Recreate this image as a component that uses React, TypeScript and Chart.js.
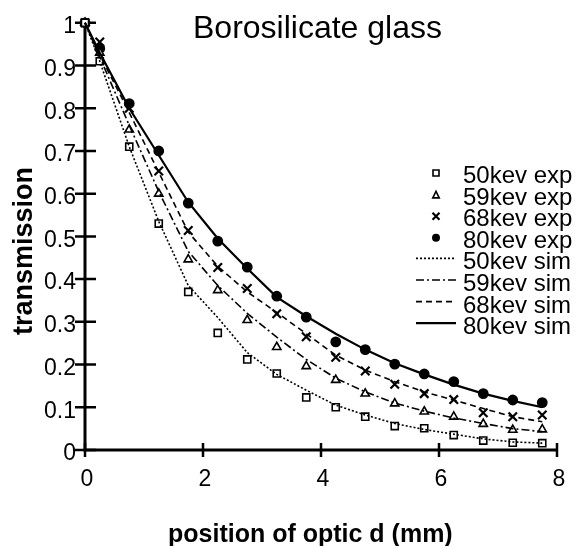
import React, { useEffect, useRef } from 'react';
import { Chart, registerables } from 'chart.js';

Chart.register(...registerables);

// ---------- data ----------
const positions = [0, 0.25, 0.75, 1.25, 1.75, 2.25, 2.75, 3.25, 3.75, 4.25, 4.75, 5.25, 5.75, 6.25, 6.75, 7.25, 7.75];

const exp50 = [1, 0.91, 0.71, 0.53, 0.37, 0.274, 0.212, 0.179, 0.123, 0.1, 0.078, 0.056, 0.051, 0.035, 0.022, 0.017, 0.016];
const exp59 = [1, 0.93, 0.75, 0.6, 0.446, 0.374, 0.304, 0.241, 0.196, 0.164, 0.132, 0.109, 0.09, 0.078, 0.061, 0.047, 0.048];
const exp68 = [1, 0.955, 0.8, 0.653, 0.514, 0.427, 0.378, 0.319, 0.265, 0.217, 0.185, 0.154, 0.132, 0.118, 0.087, 0.078, 0.082];
const exp80 = [1, 0.94, 0.811, 0.7, 0.578, 0.489, 0.428, 0.36, 0.311, 0.253, 0.235, 0.201, 0.178, 0.16, 0.132, 0.117, 0.111];

const sim50 = [1, 0.91, 0.71, 0.535, 0.385, 0.31, 0.228, 0.177, 0.14, 0.105, 0.082, 0.062, 0.048, 0.037, 0.026, 0.019, 0.016];
const sim59 = [1, 0.92, 0.76, 0.605, 0.465, 0.385, 0.32, 0.264, 0.212, 0.168, 0.136, 0.11, 0.091, 0.075, 0.062, 0.05, 0.043];
const sim68 = [1, 0.925, 0.79, 0.65, 0.51, 0.43, 0.37, 0.322, 0.272, 0.222, 0.187, 0.16, 0.136, 0.117, 0.097, 0.078, 0.066];
const sim80 = [1, 0.93, 0.8, 0.69, 0.58, 0.495, 0.425, 0.358, 0.313, 0.272, 0.235, 0.203, 0.177, 0.153, 0.132, 0.115, 0.1];

const xTicks = [0, 2, 4, 6, 8];
const yTicks = [0, 0.1, 0.2, 0.3, 0.4, 0.5, 0.6, 0.7, 0.8, 0.9, 1];

const expLabels = ['50kev exp', '59kev exp', '68kev exp', '80kev exp'];
const simLabels = ['50kev sim', '59kev sim', '68kev sim', '80kev sim'];

const chartTitle = 'Borosilicate glass';
const xTitle = 'position of optic d (mm)';
const yTitle = 'transmission';

const FONT = "'Liberation Sans', Arial, Helvetica, sans-serif";

type Marker = 'square' | 'triangle' | 'cross' | 'dot';
const expMarkers: Marker[] = ['square', 'triangle', 'cross', 'dot'];
const chartStyles: string[] = ['rect', 'triangle', 'crossRot', 'circle'];
const chartRadii = [5, 4.8, 6, 4.6];
const simDashes: number[][] = [[2, 2], [8, 3, 2, 3], [6, 4], []];
const simWidths = [1.6, 1.6, 1.6, 2.2];

function drawMarker(ctx: CanvasRenderingContext2D, m: Marker, x: number, y: number, s: number) {
  ctx.save();
  ctx.strokeStyle = '#000';
  ctx.fillStyle = '#000';
  ctx.lineWidth = 1.6;
  ctx.beginPath();
  if (m === 'square') {
    ctx.rect(x - s / 2, y - s / 2, s, s);
    ctx.stroke();
  } else if (m === 'triangle') {
    ctx.moveTo(x, y - s / 2);
    ctx.lineTo(x + s / 2, y + s / 2);
    ctx.lineTo(x - s / 2, y + s / 2);
    ctx.closePath();
    ctx.stroke();
  } else if (m === 'cross') {
    ctx.lineWidth = 2.2;
    ctx.moveTo(x - s / 2, y - s / 2);
    ctx.lineTo(x + s / 2, y + s / 2);
    ctx.moveTo(x + s / 2, y - s / 2);
    ctx.lineTo(x - s / 2, y + s / 2);
    ctx.stroke();
  } else {
    ctx.arc(x, y, s / 2, 0, Math.PI * 2);
    ctx.fill();
  }
  ctx.restore();
}

const decor = {
  id: 'decor',
  beforeDatasetsDraw(chart: any) {
    const { ctx } = chart;
    const xs = chart.scales.x;
    const ys = chart.scales.y;
    const x0 = xs.getPixelForValue(0);
    const x8 = xs.getPixelForValue(8);
    const y0 = ys.getPixelForValue(0);
    const y1 = ys.getPixelForValue(1);
    ctx.save();
    ctx.strokeStyle = '#000';
    ctx.lineWidth = 3;
    ctx.beginPath();
    ctx.moveTo(x0, y1);
    ctx.lineTo(x0, y0);
    ctx.lineTo(x8, y0);
    ctx.stroke();
    // y tick marks crossing the axis
    ctx.lineWidth = 2.5;
    ctx.beginPath();
    yTicks.forEach((v) => {
      const py = ys.getPixelForValue(v);
      ctx.moveTo(x0 - 10, py);
      ctx.lineTo(x0 + 11, py);
    });
    // x tick marks crossing the axis
    xTicks.forEach((v) => {
      const px = xs.getPixelForValue(v);
      ctx.moveTo(px, y0 - 7);
      ctx.lineTo(px, y0 + 7);
    });
    ctx.stroke();
    ctx.restore();
  },
  afterDraw(chart: any) {
    const { ctx } = chart;
    ctx.save();
    ctx.fillStyle = '#000';
    // title
    ctx.font = `32px ${FONT}`;
    ctx.textAlign = 'left';
    ctx.textBaseline = 'alphabetic';
    ctx.fillText(chartTitle, 193, 38);
    // x title
    ctx.font = `bold 25px ${FONT}`;
    ctx.fillText(xTitle, 168, 542);
    // y title
    ctx.save();
    ctx.translate(32, 251);
    ctx.rotate(-Math.PI / 2);
    ctx.font = `bold 27px ${FONT}`;
    ctx.textAlign = 'center';
    ctx.fillText(yTitle, 0, 0);
    ctx.restore();
    // legend
    const textX = 463;
    const base0 = 183;
    const step = 21.6;
    ctx.font = `24px ${FONT}`;
    ctx.textAlign = 'left';
    expLabels.forEach((lab, i) => {
      const b = base0 + step * i;
      const sizes = [6, 6.5, 7, 8];
      drawMarker(ctx, expMarkers[i], 436, b - 10, sizes[i]);
      ctx.fillText(lab, textX, b);
    });
    simLabels.forEach((lab, i) => {
      const b = base0 + step * (i + 4);
      ctx.save();
      ctx.strokeStyle = '#000';
      ctx.lineWidth = simWidths[i];
      ctx.setLineDash(simDashes[i]);
      ctx.beginPath();
      ctx.moveTo(416, b - 11);
      ctx.lineTo(456, b - 11);
      ctx.stroke();
      ctx.restore();
      ctx.fillText(lab, textX, b);
    });
    ctx.restore();
  },
};

export default function App() {
  const ref = useRef<HTMLCanvasElement>(null);

  useEffect(() => {
    if (!ref.current) return;
    const toPts = (ys: number[]) => positions.map((x, i) => ({ x, y: ys[i] }));
    const expSeries = [exp50, exp59, exp68, exp80];
    const simSeries = [sim50, sim59, sim68, sim80];

    const datasets: any[] = [];
    simSeries.forEach((s, i) => {
      datasets.push({
        label: simLabels[i],
        data: toPts(s),
        showLine: true,
        borderColor: '#000',
        borderWidth: simWidths[i],
        borderDash: simDashes[i],
        pointRadius: 0,
        tension: 0,
        clip: false,
      });
    });
    expSeries.forEach((s, i) => {
      datasets.push({
        label: expLabels[i],
        data: toPts(s),
        showLine: false,
        pointStyle: chartStyles[i],
        pointRadius: chartRadii[i],
        pointBorderWidth: i === 2 ? 2.2 : 1.6,
        pointBorderColor: '#000',
        pointBackgroundColor: i === 3 ? '#000' : '#fff',
        clip: false,
      });
    });

    const chart = new Chart(ref.current, {
      type: 'scatter',
      data: { datasets },
      plugins: [decor],
      options: {
        animation: false,
        responsive: false,
        layout: { padding: { top: 22, right: 23, left: 0, bottom: 0 } },
        plugins: { legend: { display: false }, title: { display: false }, tooltip: { enabled: false } },
        scales: {
          x: {
            type: 'linear',
            min: 0,
            max: 8,
            afterFit: (s: any) => { s.height = 96; },
            afterBuildTicks: (s: any) => { s.ticks = xTicks.map((v) => ({ value: v })); },
            grid: { display: false, drawTicks: false },
            border: { display: false },
            ticks: {
              color: '#000',
              font: { family: FONT, size: 23 },
              padding: 16,
              labelOffset: 2,
              callback: (v: any) => String(v),
            },
          },
          y: {
            type: 'linear',
            min: 0,
            max: 1,
            afterFit: (s: any) => { s.width = 85; },
            afterBuildTicks: (s: any) => { s.ticks = yTicks.map((v) => ({ value: v })); },
            grid: { display: false, drawTicks: false },
            border: { display: false },
            ticks: {
              color: '#000',
              font: { family: FONT, size: 23 },
              padding: 9,
              labelOffset: 4,
              callback: (v: any) => (v === 0 ? '0' : v === 1 ? '1' : Number(v).toFixed(1)),
            },
          },
        },
      } as any,
    });
    return () => chart.destroy();
  }, []);

  return (
    <div style={{ position: 'absolute', left: 0, top: 0, width: 580, height: 546, background: '#fff' }}>
      <canvas ref={ref} width={580} height={546} style={{ width: 580, height: 546 }} />
    </div>
  );
}
